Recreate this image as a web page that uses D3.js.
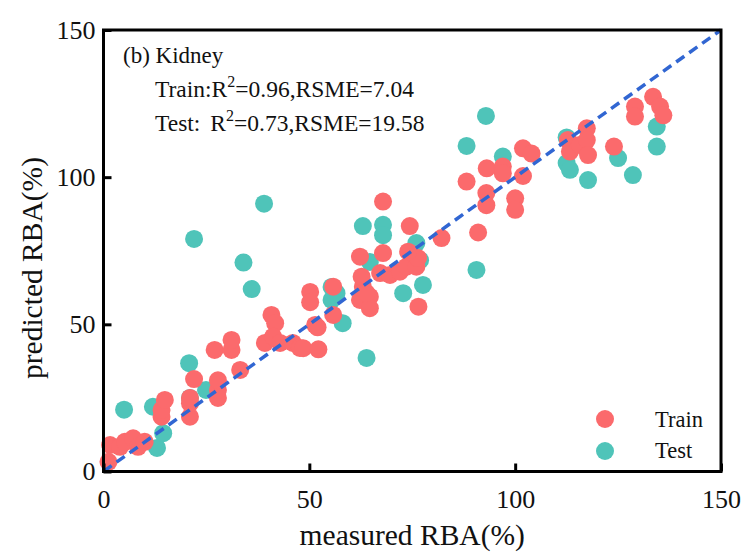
<!DOCTYPE html>
<html>
<head>
<meta charset="utf-8">
<script src="https://cdn.jsdelivr.net/npm/d3@7"></script>
<style>
  body { margin: 0; background: #fff; }
  text { font-family: "Liberation Serif", "Times New Roman", serif; fill: #111; }
</style>
</head>
<body>
<script>
// measured vs predicted RBA(%), kidney
const trainPts = [
  [1.6, 9], [1.2, 3.3], [4, 8.4], [5.2, 10.1], [7.2, 11.3], [8.4, 8.4], [10, 10.1],
  [14.1, 18.6], [14.1, 20.9], [14.9, 24.3], [21, 18.6], [21, 23.2], [21, 25], [22, 31.4],
  [27.8, 25], [27.8, 27.7], [27.8, 31], [33.2, 34.5], [27, 41.3], [31.1, 41.3], [31.1, 44.7],
  [40.8, 53.2], [41.7, 50.4], [39.2, 43.7], [41.2, 45.8], [42.9, 43.7], [46, 43.7], [47.7, 42],
  [50.2, 61], [50.2, 57.5], [51.4, 49.8], [52, 49], [48.5, 41.9], [52.2, 41.5], [55.8, 53.2],
  [55.8, 62.8], [62.3, 58.3], [64.7, 59.4], [64.7, 55.5], [63, 62.8], [63.9, 60.6], [62.7, 66.2],
  [62.3, 73], [67.2, 67.4], [67.9, 74.2], [69.6, 66.8], [72, 67.9], [73.6, 69.6], [76, 69.6],
  [76.4, 72.5], [74, 74.7], [76.5, 56], [67.9, 91.7], [74.4, 83.4], [82.1, 79.3], [88.2, 98.5],
  [93, 94.6], [93, 90.5], [91, 81.2], [93.1, 103], [97, 103.6], [97, 101.3], [101.9, 100.4],
  [100, 92.8], [100, 88.9], [101.9, 109.8], [104, 108], [112.8, 112.6], [113.3, 108.7],
  [115.7, 110.9], [117.4, 116.6], [117.4, 112.6], [117.7, 107.5], [124, 110.4],
  [129.1, 124], [129.1, 120.6], [133.5, 127.3], [135.2, 124], [136, 121]
];
const testPts = [
  [39, 91], [22, 79], [34, 71], [36, 62], [5, 21], [12, 22], [13, 8], [14.5, 13], [20.8, 36.8],
  [21, 25], [24.9, 27.7], [63, 83.4], [67.9, 83.8], [67.9, 80.3], [76, 77.6], [64.7, 71.2],
  [76.9, 71.8], [77.6, 63.4], [72.8, 60.6], [55.4, 62.7], [56.6, 60.6], [55.4, 58.3],
  [58.1, 50.4], [63.9, 38.6], [90.6, 68.5], [92.9, 120.8], [88.2, 110.6], [97, 107],
  [112.5, 104.8], [113.3, 102.5], [117.7, 99], [125, 106.5], [128.6, 100.7],
  [134.4, 117.2], [134.4, 110.4], [112.5, 113.5]
];
const tickVals = [0, 50, 100, 150];
const seriesNames = ["Train", "Test"];

const colors = {Train: "#fb6a6c", Test: "#4fc4b9"};

const margin = {top: 30, right: 25, bottom: 83.5, left: 103.5};
const W = 746, H = 555;
const width = W - margin.left - margin.right,
      height = H - margin.top - margin.bottom;

const svg = d3.select("body").append("svg")
              .attr("width", W)
              .attr("height", H);

const g = svg.append("g")
             .attr("transform", `translate(${margin.left},${margin.top})`);

const x = d3.scaleLinear().domain([0, 150]).range([0, width]);
const y = d3.scaleLinear().domain([0, 150]).range([height, 0]);

// points: test first, train on top
g.append("g").selectAll("circle")
 .data(testPts)
 .join("circle")
 .attr("cx", d => x(d[0]))
 .attr("cy", d => y(d[1]))
 .attr("r", 9)
 .attr("fill", colors.Test);

g.append("g").selectAll("circle")
 .data(trainPts)
 .join("circle")
 .attr("cx", d => x(d[0]))
 .attr("cy", d => y(d[1]))
 .attr("r", 9)
 .attr("fill", colors.Train);

// 1:1 line
g.append("line")
 .attr("x1", x(0)).attr("y1", y(0))
 .attr("x2", x(150)).attr("y2", y(150))
 .attr("stroke", "#3166d2")
 .attr("stroke-width", 3.5)
 .attr("stroke-dasharray", "10,6");

// axes, ticks inward
let xAxis = g.append("g")
             .attr("transform", `translate(0,${height})`)
             .call(d3.axisBottom(x).tickValues(tickVals).tickSize(-8).tickPadding(18));
let yAxis = g.append("g")
             .call(d3.axisLeft(y).tickValues(tickVals).tickSize(-8).tickPadding(8));

[xAxis, yAxis].forEach(a => {
  a.select(".domain").remove();
  a.selectAll(".tick line").attr("stroke", "#000").attr("stroke-width", 3);
  a.selectAll(".tick text")
   .attr("font-size", 26)
   .attr("font-family", "Liberation Serif, serif")
   .attr("fill", "#111");
});

// frame
g.append("rect")
 .attr("width", width).attr("height", height)
 .attr("fill", "none")
 .attr("stroke", "#000")
 .attr("stroke-width", 3);

// axis titles
svg.append("text")
   .attr("x", margin.left + width / 2)
   .attr("y", 545)
   .attr("text-anchor", "middle")
   .attr("font-size", 29.5)
   .text("measured RBA(%)");

svg.append("text")
   .attr("transform", `translate(42,268) rotate(-90)`)
   .attr("text-anchor", "middle")
   .attr("font-size", 29.5)
   .text("predicted RBA(%)");

// annotation
svg.append("text").attr("x", 123).attr("y", 63).attr("font-size", 23).text("(b) Kidney");

const ann = [
  {lab: "Train:", r2: "0.96", rsme: "7.04", y: 97, gap: 0},
  {lab: "Test:", r2: "0.73", rsme: "19.58", y: 131, gap: 10}
];
ann.forEach(a => {
  const t = svg.append("text").attr("x", 155).attr("y", a.y).attr("font-size", 23.5);
  t.append("tspan").text(a.lab);
  t.append("tspan").attr("dx", a.gap).text("R");
  t.append("tspan").attr("dy", -10).attr("font-size", 16).text("2");
  t.append("tspan").attr("dy", 10).text(`=${a.r2},RSME=${a.rsme}`);
});

// legend
const leg = svg.append("g");
seriesNames.forEach((s, i) => {
  leg.append("circle")
     .attr("cx", 605).attr("cy", 419 + i * 32)
     .attr("r", 9).attr("fill", colors[s]);
  leg.append("text")
     .attr("x", 655).attr("y", 427 + i * 31)
     .attr("font-size", 22.5)
     .text(s);
});
</script>
</body>
</html>
